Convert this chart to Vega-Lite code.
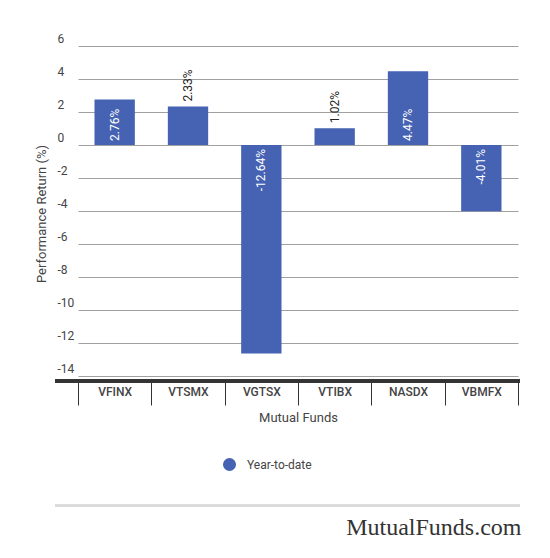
{
  "$schema": "https://vega.github.io/schema/vega-lite/v6.json",
  "autosize": {"type": "none"},
  "padding": {"left": 55, "top": 46, "right": 30, "bottom": 177},
  "width": 465,
  "height": 335,
  "background": "white",
  "config": {
    "font": "Roboto",
    "view": {"stroke": null},
    "axis": {"labelFont": "Roboto", "titleFont": "Roboto"}
  },
  "title": {
    "text": "MutualFunds.com",
    "orient": "bottom",
    "anchor": "end",
    "font": "Liberation Serif",
    "fontSize": 24,
    "fontWeight": "normal",
    "color": "#333333",
    "offset": 10
  },
  "data": {
    "values": [
      {"fund": "VFINX", "value": 2.76, "series": "Year-to-date"},
      {"fund": "VTSMX", "value": 2.33, "series": "Year-to-date"},
      {"fund": "VGTSX", "value": -12.64, "series": "Year-to-date"},
      {"fund": "VTIBX", "value": 1.02, "series": "Year-to-date"},
      {"fund": "NASDX", "value": 4.47, "series": "Year-to-date"},
      {"fund": "VBMFX", "value": -4.01, "series": "Year-to-date"}
    ]
  },
  "transform": [
    {"calculate": "toString(datum.value) + '%'", "as": "label"}
  ],
  "layer": [
    {
      "mark": {"type": "bar", "width": {"band": 0.55}},
      "encoding": {
        "x": {
          "field": "fund",
          "type": "nominal",
          "sort": null,
          "scale": {"range": [23, 463], "paddingInner": 0, "paddingOuter": 0},
          "axis": {
            "title": "Mutual Funds",
            "titleFontSize": 13,
            "titleFontWeight": "normal",
            "titleColor": "#444444",
            "titlePadding": 6,
            "domain": false,
            "tickBand": "extent",
            "tickSize": 24,
            "tickColor": "#333333",
            "tickWidth": 1,
            "labelAngle": 0,
            "labelPadding": -19,
            "labelBaseline": "top",
            "labelFontSize": 12,
            "labelFontWeight": 500,
            "labelColor": "#444444"
          }
        },
        "y": {
          "field": "value",
          "type": "quantitative",
          "scale": {"domain": [-14.3, 6], "nice": false, "zero": true},
          "axis": {
            "title": "Performance Return (%)",
            "titleFontSize": 13,
            "titleFontWeight": "normal",
            "titleColor": "#444444",
            "titlePadding": 7,
            "tickCount": 11,
            "values": [-14, -12, -10, -8, -6, -4, -2, 0, 2, 4, 6],
            "labelOverlap": false,
            "labelExpr": "'' + datum.value",
            "domain": false,
            "ticks": false,
            "tickSize": 0,
            "grid": true,
            "gridColor": "#a0a0a0",
            "gridWidth": 1,
            "labelAlign": "left",
            "labelBaseline": "alphabetic",
            "labelPadding": -2,
            "labelOffset": -4,
            "labelFontSize": 12,
            "labelColor": "#444444"
          }
        },
        "color": {
          "field": "series",
          "type": "nominal",
          "scale": {"range": ["#4562b3"]},
          "legend": {
            "title": null,
            "orient": "none",
            "direction": "horizontal",
            "legendX": 167,
            "legendY": 411,
            "symbolType": "circle",
            "symbolSize": 170,
            "symbolOpacity": 1,
            "labelFontSize": 12,
            "labelColor": "#444444",
            "labelOffset": 10
          }
        }
      }
    },
    {
      "transform": [{"filter": "datum.value >= 2.5"}],
      "mark": {"type": "text", "angle": 270, "align": "left", "baseline": "middle", "dx": 4, "fontSize": 12, "color": "white"},
      "encoding": {
        "x": {"field": "fund", "type": "nominal", "sort": null},
        "y": {"datum": 0, "type": "quantitative"},
        "text": {"field": "label"}
      }
    },
    {
      "transform": [{"filter": "datum.value <= -2.5"}],
      "mark": {"type": "text", "angle": 270, "align": "right", "baseline": "middle", "dx": -4, "fontSize": 12, "color": "white"},
      "encoding": {
        "x": {"field": "fund", "type": "nominal", "sort": null},
        "y": {"datum": 0, "type": "quantitative"},
        "text": {"field": "label"}
      }
    },
    {
      "transform": [{"filter": "datum.value > 0 && datum.value < 2.5"}],
      "mark": {"type": "text", "angle": 270, "align": "left", "baseline": "middle", "dx": 5, "fontSize": 12, "color": "#222222"},
      "encoding": {
        "x": {"field": "fund", "type": "nominal", "sort": null},
        "y": {"field": "value", "type": "quantitative"},
        "text": {"field": "label"}
      }
    },
    {
      "mark": {"type": "rule", "color": "#333333", "strokeWidth": 3},
      "encoding": {
        "y": {"datum": -14.3, "type": "quantitative"}
      }
    },
    {
      "mark": {"type": "rule", "color": "#d8d8d8", "strokeWidth": 1.5},
      "encoding": {
        "y": {"datum": -21.85, "type": "quantitative"}
      }
    }
  ]
}
